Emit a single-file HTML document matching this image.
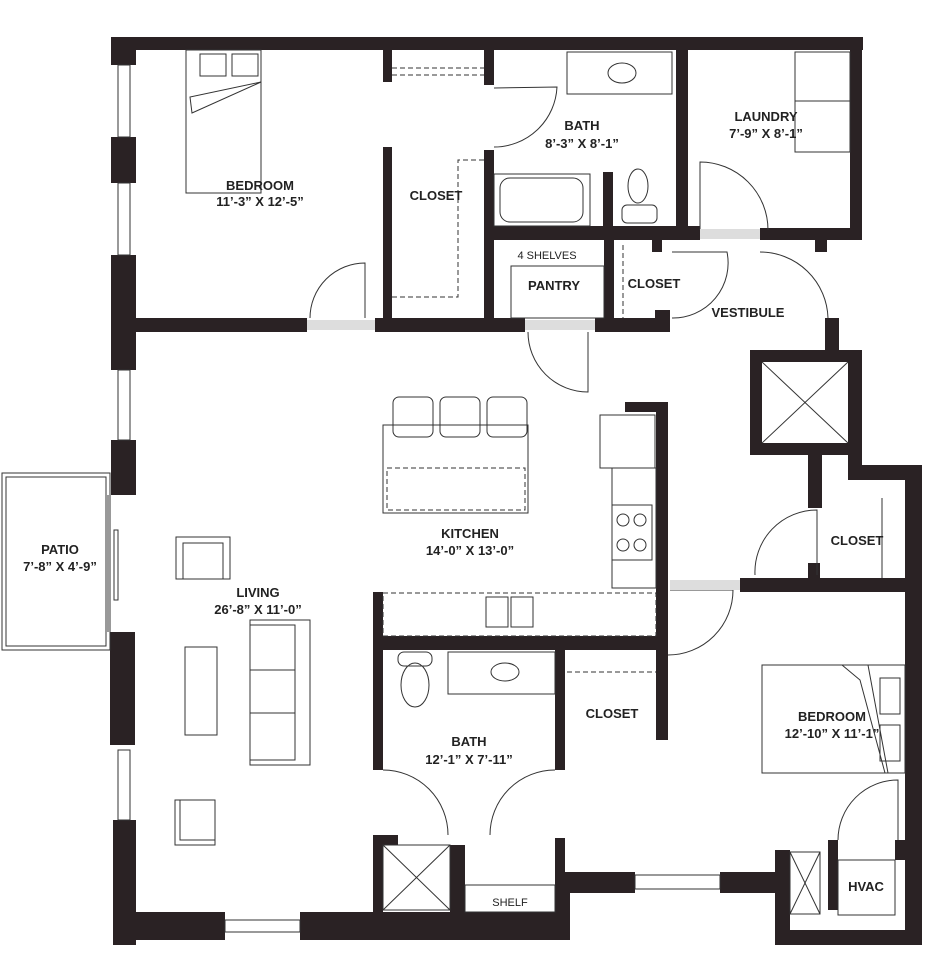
<!DOCTYPE html>
<html><head><meta charset="utf-8"><style>
body{margin:0;background:#fff;}
svg{display:block;}
text{font-family:"Liberation Sans",sans-serif;font-weight:bold;font-size:13px;fill:#222;text-anchor:middle;}
</style></head><body>
<svg width="940" height="960" viewBox="0 0 940 960" xmlns="http://www.w3.org/2000/svg">
<rect width="940" height="960" fill="#fff"/>
<g fill="#2a2224">
<rect x="113" y="37" width="750" height="13"/>
<rect x="850" y="37" width="12" height="203"/>
<rect x="111" y="37" width="25" height="28"/>
<rect x="111" y="137" width="25" height="46"/>
<rect x="111" y="255" width="25" height="115"/>
<rect x="111" y="440" width="25" height="55"/>
<rect x="110" y="632" width="25" height="113"/>
<rect x="113" y="820" width="23" height="125"/>
<rect x="113" y="912" width="112" height="28"/>
<rect x="300" y="912" width="270" height="28"/>
<rect x="555" y="872" width="80" height="21"/>
<rect x="555" y="872" width="15" height="68"/>
<rect x="720" y="872" width="65" height="21"/>
<rect x="775" y="850" width="15" height="95"/>
<rect x="775" y="930" width="147" height="15"/>
<rect x="905" y="465" width="17" height="480"/>
<rect x="850" y="465" width="72" height="15"/>
<rect x="750" y="350" width="112" height="12"/>
<rect x="750" y="350" width="12" height="105"/>
<rect x="750" y="443" width="100" height="12"/>
<rect x="848" y="350" width="14" height="130"/>
<rect x="825" y="318" width="14" height="40"/>
<rect x="808" y="455" width="14" height="53"/>
<rect x="136" y="318" width="171" height="14"/>
<rect x="375" y="318" width="150" height="14"/>
<rect x="595" y="318" width="75" height="14"/>
<rect x="655" y="310" width="15" height="22"/>
<rect x="383" y="50" width="9" height="32"/>
<rect x="383" y="147" width="9" height="185"/>
<rect x="484" y="50" width="10" height="35"/>
<rect x="484" y="150" width="10" height="180"/>
<rect x="484" y="226" width="216" height="14"/>
<rect x="604" y="240" width="10" height="82"/>
<rect x="676" y="50" width="12" height="190"/>
<rect x="760" y="228" width="102" height="12"/>
<rect x="603" y="172" width="10" height="56"/>
<rect x="652" y="240" width="10" height="12"/>
<rect x="815" y="240" width="12" height="12"/>
<rect x="625" y="402" width="43" height="10"/>
<rect x="656" y="402" width="12" height="230"/>
<rect x="656" y="575" width="12" height="165"/>
<rect x="373" y="592" width="10" height="178"/>
<rect x="373" y="636" width="295" height="14"/>
<rect x="555" y="650" width="10" height="120"/>
<rect x="740" y="578" width="182" height="14"/>
<rect x="808" y="563" width="12" height="20"/>
<rect x="373" y="835" width="10" height="105"/>
<rect x="373" y="835" width="25" height="10"/>
<rect x="450" y="845" width="15" height="70"/>
<rect x="555" y="838" width="10" height="54"/>
<rect x="828" y="840" width="10" height="70"/>
<rect x="895" y="840" width="12" height="20"/>
</g>
<g fill="none" stroke="#333" stroke-width="1">
<rect x="2" y="473" width="108" height="177"/>
<rect x="6" y="477" width="100" height="169"/>
<line x1="108" y1="495" x2="108" y2="632"/>
<rect x="114" y="530" width="4" height="70"/>
<rect x="118" y="65" width="12" height="72"/><rect x="118" y="183" width="12" height="72"/>
<rect x="118" y="370" width="12" height="70"/><rect x="118" y="750" width="12" height="70"/>
<rect x="225" y="920" width="75" height="12"/><rect x="635" y="875" width="85" height="14"/>
<rect x="186" y="50" width="75" height="143"/>
<rect x="200" y="54" width="26" height="22"/><rect x="232" y="54" width="26" height="22"/>
<polyline points="261,82 190,97 192,113 261,82"/>
<path d="M310 318 A55 55 0 0 1 365 263 L365 318"/>
<path d="M494 147 A63 63 0 0 0 557 87 L494 88"/>
<path d="M528 332 A60 60 0 0 0 588 392 L588 332"/>
<path d="M700 230 L700 162 A68 68 0 0 1 768 230"/>
<path d="M760 252 A68 68 0 0 1 828 318"/>
<path d="M672 318 A55 55 0 0 0 727 252 L672 252"/>
<path d="M755 575 A62 62 0 0 1 817 510 L817 575"/>
<path d="M668 655 A65 65 0 0 0 733 590 L670 590"/>
<path d="M383 770 A65 65 0 0 1 448 835"/>
<path d="M555 770 A65 65 0 0 0 490 835"/>
<path d="M838 840 A60 60 0 0 1 898 780 L898 840"/>
<path d="M392 75 L484 75 M392 68 L484 68" stroke-dasharray="5 3"/>
<polyline points="392,297 458,297 458,160 484,160" stroke-dasharray="5 3"/>
<line x1="567" y1="672" x2="656" y2="672" stroke-dasharray="5 3"/>
<line x1="623" y1="245" x2="623" y2="318" stroke-dasharray="5 3"/>
<line x1="882" y1="498" x2="882" y2="578" />
<rect x="567" y="52" width="105" height="42"/>
<ellipse cx="622" cy="73" rx="14" ry="10"/>
<rect x="494" y="174" width="96" height="52"/><rect x="500" y="178" width="83" height="44" rx="10"/>
<ellipse cx="638" cy="186" rx="10" ry="17"/><rect x="622" y="205" width="35" height="18" rx="5"/>
<rect x="511" y="266" width="93" height="52"/>
<rect x="795" y="52" width="55" height="100"/><line x1="795" y1="101" x2="850" y2="101"/>
<line x1="762" y1="362" x2="848" y2="443"/><line x1="848" y1="362" x2="762" y2="443"/>
<rect x="383" y="425" width="145" height="88"/>
<rect x="393" y="397" width="40" height="40" rx="6"/><rect x="440" y="397" width="40" height="40" rx="6"/><rect x="487" y="397" width="40" height="40" rx="6"/>
<rect x="387" y="468" width="138" height="42" stroke-dasharray="5 3"/>
<rect x="600" y="415" width="55" height="53"/>
<rect x="612" y="468" width="44" height="120"/>
<rect x="612" y="505" width="40" height="55"/>
<circle cx="623" cy="520" r="6"/><circle cx="640" cy="520" r="6"/><circle cx="623" cy="545" r="6"/><circle cx="640" cy="545" r="6"/>
<rect x="383" y="593" width="273" height="43" stroke-dasharray="5 3"/>
<rect x="486" y="597" width="22" height="30"/><rect x="511" y="597" width="22" height="30"/>
<rect x="176" y="537" width="54" height="42"/><rect x="183" y="543" width="40" height="36"/>
<rect x="185" y="647" width="32" height="88"/>
<rect x="250" y="620" width="60" height="145"/><rect x="250" y="625" width="45" height="135"/>
<line x1="250" y1="670" x2="295" y2="670"/><line x1="250" y1="713" x2="295" y2="713"/>
<rect x="175" y="800" width="40" height="45"/><rect x="180" y="800" width="35" height="40"/>
<ellipse cx="415" cy="685" rx="14" ry="22"/><rect x="398" y="652" width="34" height="14" rx="6"/>
<rect x="448" y="652" width="107" height="42"/><ellipse cx="505" cy="672" rx="14" ry="9"/>
<rect x="383" y="845" width="67" height="65"/>
<line x1="383" y1="845" x2="450" y2="910"/><line x1="450" y1="845" x2="383" y2="910"/>
<rect x="465" y="885" width="90" height="27"/>
<rect x="762" y="665" width="143" height="108"/>
<polyline points="842,665 868,665 888,773"/><polyline points="842,665 860,680 885,773"/>
<rect x="880" y="678" width="20" height="36"/><rect x="880" y="725" width="20" height="36"/>
<rect x="790" y="852" width="30" height="62"/><line x1="790" y1="852" x2="820" y2="914"/><line x1="820" y1="852" x2="790" y2="914"/>
<rect x="838" y="860" width="57" height="55"/>
</g>
<g fill="#ddd"><rect x="307" y="320" width="68" height="10"/><rect x="525" y="320" width="70" height="10"/>
<rect x="700" y="229" width="60" height="10"/><rect x="670" y="580" width="70" height="10"/></g>
<text x="260" y="190">BEDROOM</text><text x="260" y="206">11’-3” X 12’-5”</text>
<text x="436" y="200">CLOSET</text>
<text x="582" y="130">BATH</text><text x="582" y="148">8’-3” X 8’-1”</text>
<text x="766" y="121">LAUNDRY</text><text x="766" y="138">7’-9” X 8’-1”</text>
<text x="547" y="259" style="font-size:11px;font-weight:normal">4 SHELVES</text>
<text x="554" y="290">PANTRY</text><text x="654" y="288">CLOSET</text>
<text x="748" y="317">VESTIBULE</text>
<text x="470" y="538">KITCHEN</text><text x="470" y="555">14’-0” X 13’-0”</text>
<text x="60" y="554">PATIO</text><text x="60" y="571">7’-8” X 4’-9”</text>
<text x="258" y="597">LIVING</text><text x="258" y="614">26’-8” X 11’-0”</text>
<text x="857" y="545">CLOSET</text>
<text x="612" y="718">CLOSET</text>
<text x="832" y="721">BEDROOM</text><text x="832" y="738">12’-10” X 11’-1”</text>
<text x="469" y="746">BATH</text><text x="469" y="764">12’-1” X 7’-11”</text>
<text x="510" y="906" style="font-size:11px;font-weight:normal">SHELF</text>
<text x="866" y="891">HVAC</text>
</svg>
</body></html>
